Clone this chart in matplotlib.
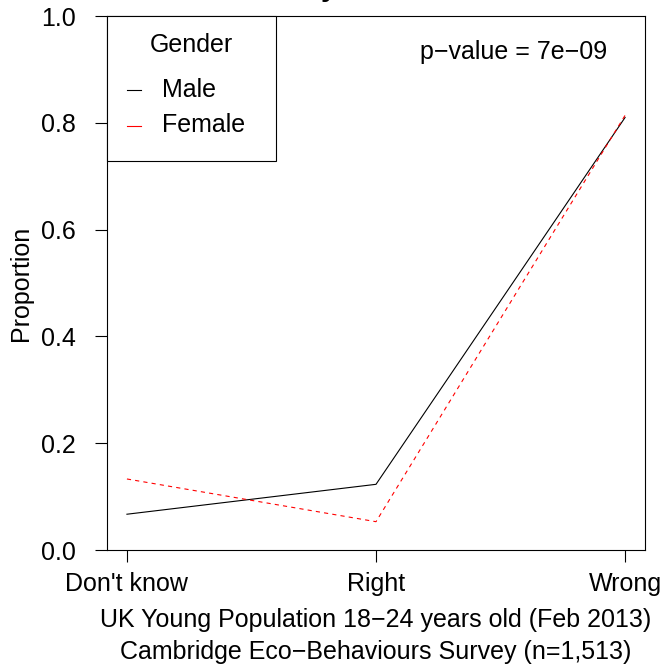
import matplotlib
matplotlib.use("Agg")
import matplotlib.pyplot as plt
from matplotlib.patches import Rectangle

plt.rcParams['font.family'] = ['Liberation Sans', 'DejaVu Sans']
plt.rcParams['lines.scale_dashes'] = False

categories = ["Don't know", "Right", "Wrong"]
male = [0.067, 0.123, 0.810]
female = [0.133, 0.053, 0.814]
yticks = [0.0, 0.2, 0.4, 0.6, 0.8, 1.0]
legend_title = "Gender"
series_names = ["Male", "Female"]
series_colors = ["black", "red"]
pvalue_text = "p\u2212value = 7e\u221209"
xlabel_lines = ["UK Young Population 18\u221224 years old (Feb 2013)",
                "Cambridge Eco\u2212Behaviours Survey (n=1,513)"]
ylabel = "Proportion"

W, H = 662, 668
AX_L, AX_B, AX_W, AX_H = 107, 118, 538, 534  # pixels
fig = plt.figure(figsize=(W / 100, H / 100), dpi=100)
ax = fig.add_axes([AX_L / W, AX_B / H, AX_W / W, AX_H / H])


def ax_frac(px, py):
    """pixel position (from top-left of figure) -> axes fraction"""
    return (px - AX_L) / AX_W, ((H - py) - AX_B) / AX_H


xs = list(range(1, len(categories) + 1))
ax.plot(xs, male, color=series_colors[0], lw=0.8, solid_joinstyle='miter')
ax.plot(xs, female, color=series_colors[1], lw=0.8, dashes=(3, 3))

ax.set_xlim(0.92, 3.08)
ax.set_ylim(0, 1)
ax.set_xticks(xs)
ax.set_xticklabels(categories)
ax.set_yticks(yticks)
ax.set_yticklabels([f"{v:.1f}" for v in yticks])
ax.tick_params(axis='both', direction='out', length=8.6, width=0.8, labelsize=18, colors='black')
ax.tick_params(axis='x', pad=7)
ax.tick_params(axis='y', pad=14)
for s in ax.spines.values():
    s.set_linewidth(0.8)

ax.set_ylabel(ylabel, fontsize=18)
ax.yaxis.set_label_coords(*ax_frac(33, 0)[:1], 0.5)

ax.text(*ax_frac(607, 52), pvalue_text, transform=ax.transAxes, ha='right', va='center', fontsize=18)

for i, line in enumerate(xlabel_lines):
    fig.text(376 / W, 1 - (620 + 32 * i) / H, line, ha='center', va='center', fontsize=18)

# clipped title (only descender visible in the reference)
fig.text(329 / W, 1 + 4 / H, "y", ha='center', va='baseline', fontsize=21, fontweight='bold')

# legend (R style box in top-left corner)
x0, y1 = ax_frac(107, 16)
x1, y0 = ax_frac(276, 161)
ax.add_patch(Rectangle((x0, y0), x1 - x0, y1 - y0, transform=ax.transAxes,
                       facecolor='white', edgecolor='black', lw=0.8, zorder=5, clip_on=False))
ax.text(*ax_frac(191, 45), legend_title, transform=ax.transAxes, ha='center', va='center',
        fontsize=18, zorder=6)
for i, (name, col) in enumerate(zip(series_names, series_colors)):
    py = 90 + 35.5 * i
    hx0, hy = ax_frac(127, py)
    hx1, _ = ax_frac(141, py)
    ax.plot([hx0, hx1], [hy, hy], transform=ax.transAxes, color=col, lw=0.8, zorder=6,
            clip_on=False)
    ax.text(*ax_frac(162, py), name, transform=ax.transAxes, ha='left', va='center',
            fontsize=18, zorder=6)

fig.savefig("out.png", dpi=100)
